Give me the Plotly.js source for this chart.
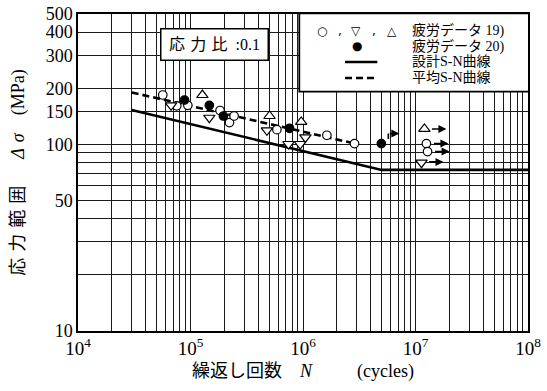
<!DOCTYPE html>
<html><head><meta charset="utf-8">
<script src="https://cdn.plot.ly/plotly-3.0.1.min.js"></script>
<style>html,body{margin:0;padding:0;background:#fff}#chart{width:547px;height:391px}</style>
</head><body><div id="chart"></div>
<script>
// ---------- data ----------
// Fatigue data, ref. 19) : open circle / open triangle-down / open triangle-up
const ref19CircleN  = [56700, 75500, 94700, 183000, 222000, 244000, 586000, 1630000, 2870000];
const ref19CircleS  = [184, 161, 162, 152, 131, 142, 120, 112, 101];
const ref19TriDownN = [67200, 147000, 478000, 743000, 944000, 1050000];
const ref19TriDownS = [162, 139, 119, 100.5, 100.5, 109];
const ref19TriUpN   = [127600, 504000, 964000];
const ref19TriUpS   = [184, 142, 132];
// Fatigue data, ref. 20) : filled circle
const ref20N = [88400, 147000, 196000, 759000];
const ref20S = [173, 162, 142, 122];
// Run-outs (not failed, shown with arrows)
const runoutCircleN  = [12500000, 12800000];
const runoutCircleS  = [101, 91.5];
const runoutTriDownN = [11300000];
const runoutTriDownS = [79.8];
const runoutTriUpN   = [12000000];
const runoutTriUpS   = [121];
const runoutFilledN  = [4970000];
const runoutFilledS  = [101];
// S-N curves
const designN = [30000, 5000000, 100000000];
const designS = [153, 73, 73];
const meanN = [30000, 2700000];
const meanS = [190, 102];
// ticks / grid
const xDecades = [4, 5, 6, 7, 8];
const xTickLabels = ['10<sup>4</sup>', '10<sup>5</sup>', '10<sup>6</sup>', '10<sup>7</sup>', '10<sup>8</sup>'];
const yGridVals = [10, 20, 30, 40, 50, 60, 70, 80, 90, 100, 150, 200, 300, 400, 500];
const yTickLabels = ['10', '', '', '', '50', '', '', '', '', '100', '150', '200', '300', '400', '500'];
// texts
const legendLabels = ['疲労データ 19)', '疲労データ 20)', '設計S-N曲線', '平均S-N曲線'];
const ratioLabel = '応\u2004力\u2004比\u2002:0.1';
const xTitle = '繰返し回数\u2003<i>N</i>\u2003\u2003\u2002(cycles)';
const yTitle = '応\u2004力\u2004範\u2004囲\u2003\u2002<i>Δ\u2004σ</i>\u2003(MPa)';

// ---------- build ----------
const xTickVals = [], xTickText = [];
xDecades.forEach((d, i) => {
  const mults = (i === xDecades.length - 1) ? [1] : [1,2,3,4,5,6,7,8,9];
  mults.forEach(m => {
    xTickVals.push(m * Math.pow(10, d));
    xTickText.push(m === 1 ? xTickLabels[i] : '');
  });
});

const lineBlack = {color: '#000', width: 1.2};
const traces = [
  {x: designN, y: designS, mode: 'lines', line: {color: '#000', width: 2.6}, name: legendLabels[2]},
  {x: meanN, y: meanS, mode: 'lines', line: {color: '#000', width: 2.6, dash: '7px,4px'}, name: legendLabels[3]},
  {x: ref19CircleN.concat(runoutCircleN), y: ref19CircleS.concat(runoutCircleS), mode: 'markers',
   marker: {symbol: 'circle', size: 8.5, color: '#fff', line: lineBlack}, name: legendLabels[0]},
  {x: ref19TriDownN.concat(runoutTriDownN), y: ref19TriDownS.concat(runoutTriDownS), mode: 'markers',
   marker: {symbol: 'triangle-down', size: 10, color: '#fff', line: lineBlack}, name: legendLabels[0]},
  {x: ref19TriUpN.concat(runoutTriUpN), y: ref19TriUpS.concat(runoutTriUpS), mode: 'markers',
   marker: {symbol: 'triangle-up', size: 10, color: '#fff', line: lineBlack}, name: legendLabels[0]},
  {x: ref20N.concat(runoutFilledN), y: ref20S.concat(runoutFilledS), mode: 'markers',
   marker: {symbol: 'circle', size: 8.5, color: '#000', line: lineBlack}, name: legendLabels[1]}
];

// plot area geometry (px) used for arrow offsets
const PX_PER_DEC_X = 450 / 4;
const PX_PER_DEC_Y = 317 / Math.log10(50);
const annotations = [];
function runoutArrow(n, s) {
  annotations.push({x: Math.log10(n) + 22 / PX_PER_DEC_X, y: Math.log10(s), xref: 'x', yref: 'y',
    text: '', showarrow: true, arrowhead: 2, arrowsize: 1, arrowwidth: 1.6, arrowcolor: '#000',
    ax: -16, ay: 0});
}
runoutCircleN.forEach((n, i) => runoutArrow(n, runoutCircleS[i]));
runoutTriDownN.forEach((n, i) => runoutArrow(n, runoutTriDownS[i] * 1.01));
runoutTriUpN.forEach((n, i) => runoutArrow(n, runoutTriUpS[i]));
runoutFilledN.forEach((n, i) => {
  const s = runoutFilledS[i];
  const yTop = Math.log10(s) + 10 / PX_PER_DEC_Y;
  annotations.push({x: Math.log10(n) + 7 / PX_PER_DEC_X, y: yTop, xref: 'x', yref: 'y', text: '',
    showarrow: true, arrowhead: 0, arrowwidth: 1.6, arrowcolor: '#000', ax: 0, ay: 7});
  annotations.push({x: Math.log10(n) + 18 / PX_PER_DEC_X, y: yTop, xref: 'x', yref: 'y', text: '',
    showarrow: true, arrowhead: 2, arrowsize: 1, arrowwidth: 1.6, arrowcolor: '#000', ax: -11, ay: 0});
});

// stress ratio box
annotations.push({x: (214.5 - 78) / 450, y: (331 - 45) / 317, xref: 'paper', yref: 'paper',
  xanchor: 'center', yanchor: 'middle',
  text: ratioLabel, showarrow: false, font: {size: 16}, bgcolor: '#fff', bordercolor: '#000',
  borderwidth: 1.5, borderpad: 2, width: 102, height: 26});

// legend contents
const legY = [30.5, 46, 62, 78].map(p => (331 - p) / 317);
const legTextX = (410 - 78) / 450;
legendLabels.forEach((t, i) => annotations.push({x: legTextX, y: legY[i], xref: 'paper', yref: 'paper',
  xanchor: 'left', yanchor: 'middle', text: t, showarrow: false, font: {size: 14}}));
const symFont = {family: 'DejaVu Sans', size: 12, color: '#000'};
[[321.7, '○'], [339.5, ','], [355.7, '▽'], [374, ','], [391.7, '△']].forEach(([px, ch]) =>
  annotations.push({x: (px - 78) / 450, y: legY[0], xref: 'paper', yref: 'paper', text: ch,
    xanchor: 'center', yanchor: 'middle', showarrow: false, font: symFont}));
annotations.push({x: (356.7 - 78) / 450, y: legY[1], xref: 'paper', yref: 'paper', text: '●',
  xanchor: 'center', yanchor: 'middle', showarrow: false, font: {family: 'DejaVu Sans', size: 12, color: '#000'}});

const shapes = [
  {type: 'rect', xref: 'paper', yref: 'paper', x0: (299.3 - 78) / 450, x1: 1.002, y0: (331 - 91.7) / 317, y1: 1.002,
   fillcolor: '#fff', line: {color: '#000', width: 1.8}, layer: 'above'},
  {type: 'line', xref: 'paper', yref: 'paper', x0: (345 - 78) / 450, x1: (377.3 - 78) / 450, y0: legY[2], y1: legY[2],
   line: {color: '#000', width: 2.6}, layer: 'above'},
  {type: 'line', xref: 'paper', yref: 'paper', x0: (345 - 78) / 450, x1: (377.3 - 78) / 450, y0: legY[3], y1: legY[3],
   line: {color: '#000', width: 2.6, dash: '7px,4px'}, layer: 'above'}
];

const axisCommon = {type: 'log', ticks: '', showgrid: true, gridcolor: '#1a1a1a', gridwidth: 1,
  showline: true, linecolor: '#000', linewidth: 1.6, mirror: true, zeroline: false};

const layout = {
  width: 547, height: 391,
  margin: {l: 78, r: 19, t: 14, b: 60},
  paper_bgcolor: '#fff', plot_bgcolor: '#fff', showlegend: false,
  font: {family: '"Liberation Serif", "Noto Sans CJK JP", serif', color: '#000', size: 16},
  xaxis: Object.assign({}, axisCommon, {range: [4, 8], tickmode: 'array', tickvals: xTickVals, ticktext: xTickText,
    tickfont: {size: 19}, title: {text: xTitle, font: {size: 18}, standoff: 6}}),
  yaxis: Object.assign({}, axisCommon, {range: [1, Math.log10(500)], tickmode: 'array', tickvals: yGridVals,
    ticktext: yTickLabels, tickfont: {size: 18}, title: {text: yTitle, font: {size: 18}, standoff: 16}}),
  annotations: annotations, shapes: shapes
};

Plotly.newPlot('chart', traces, layout, {staticPlot: true, displayModeBar: false});
</script></body></html>
